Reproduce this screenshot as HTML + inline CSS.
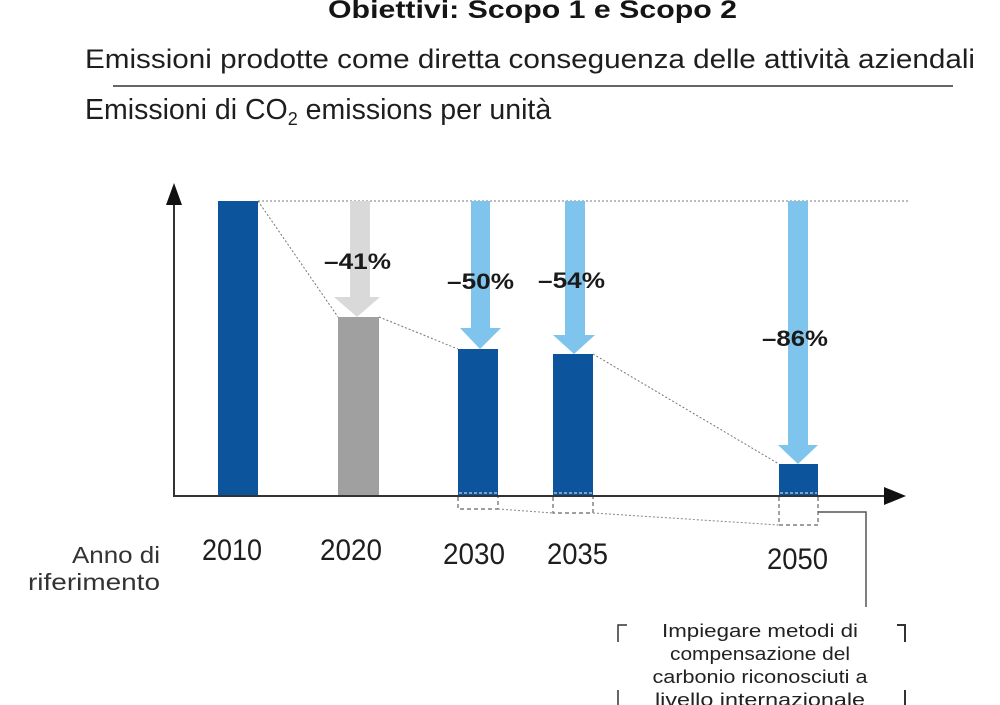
<!DOCTYPE html>
<html>
<head>
<meta charset="utf-8">
<style>
  html, body { margin:0; padding:0; background:#ffffff; }
  body { width:1000px; height:705px; overflow:hidden; }
  svg { display:block; }
  text { font-family: "Liberation Sans", "DejaVu Sans", sans-serif; }
</style>
</head>
<body>
<svg width="1000" height="705" viewBox="0 0 1000 705" xmlns="http://www.w3.org/2000/svg">
  <rect x="0" y="0" width="1000" height="705" fill="#ffffff"/>

  <!-- Header -->
  <text x="328" y="18" font-size="25" font-weight="bold" fill="#151515" textLength="409" lengthAdjust="spacingAndGlyphs">Obiettivi: Scopo 1 e Scopo 2</text>
  <text x="85" y="68" font-size="27" fill="#1e1e1e" textLength="890" lengthAdjust="spacingAndGlyphs">Emissioni prodotte come diretta conseguenza delle attività aziendali</text>
  <line x1="113" y1="86" x2="953" y2="86" stroke="#333" stroke-width="1.5"/>
  <text x="85" y="119" font-size="28.5" fill="#1e1e1e">Emissioni di CO<tspan font-size="18" dy="6">2</tspan><tspan dy="-6"> emissions per unità</tspan></text>

  <!-- Top dotted reference line -->
  <line x1="258" y1="201" x2="908" y2="201" stroke="#777" stroke-width="1" stroke-dasharray="2 2"/>

  <!-- Dotted trend lines -->
  <line x1="258" y1="201" x2="338" y2="317" stroke="#777" stroke-width="1" stroke-dasharray="2 2"/>
  <line x1="379" y1="317" x2="458" y2="349" stroke="#777" stroke-width="1" stroke-dasharray="2 2"/>
  <line x1="593" y1="354" x2="779" y2="464" stroke="#777" stroke-width="1" stroke-dasharray="2 2"/>

  <!-- Arrows -->
  <rect x="350" y="201" width="20" height="97" fill="#d9d9d9"/>
  <polygon points="334,297 380,297 357,317" fill="#d9d9d9"/>
  <rect x="471" y="201" width="19" height="128" fill="#7fc4ec"/>
  <polygon points="460,328 501,328 480,349" fill="#7fc4ec"/>
  <rect x="565" y="201" width="20" height="135" fill="#7fc4ec"/>
  <polygon points="553,335 595,335 574,354" fill="#7fc4ec"/>
  <rect x="788" y="201" width="20" height="245" fill="#7fc4ec"/>
  <polygon points="778,445 818,445 798,464" fill="#7fc4ec"/>

  <!-- Bars -->
  <rect x="218" y="201" width="40" height="295" fill="#0c559d"/>
  <rect x="338" y="317" width="41" height="179" fill="#a0a0a0"/>
  <rect x="458" y="349" width="40" height="147" fill="#0c559d"/>
  <rect x="553" y="354" width="40" height="142" fill="#0c559d"/>
  <rect x="779" y="464" width="39" height="32" fill="#0c559d"/>

  <!-- Wavy/dashed bottoms of bars -->
  <line x1="459" y1="493" x2="497" y2="493" stroke="#bcd4ec" stroke-width="1.2" stroke-dasharray="3 2"/>
  <line x1="554" y1="493" x2="592" y2="493" stroke="#bcd4ec" stroke-width="1.2" stroke-dasharray="3 2"/>
  <line x1="780" y1="493" x2="817" y2="493" stroke="#bcd4ec" stroke-width="1.2" stroke-dasharray="3 2"/>

  <!-- Percent labels -->
  <text x="324" y="269" font-size="22" font-weight="bold" fill="#1a1a1a" textLength="67" lengthAdjust="spacingAndGlyphs">–41%</text>
  <text x="447" y="289" font-size="22" font-weight="bold" fill="#1a1a1a" textLength="67" lengthAdjust="spacingAndGlyphs">–50%</text>
  <text x="538" y="288" font-size="22" font-weight="bold" fill="#1a1a1a" textLength="67" lengthAdjust="spacingAndGlyphs">–54%</text>
  <text x="762" y="346" font-size="22" font-weight="bold" fill="#1a1a1a" textLength="66" lengthAdjust="spacingAndGlyphs">–86%</text>

  <!-- Axes -->
  <line x1="174" y1="204" x2="174" y2="497" stroke="#333" stroke-width="2"/>
  <polygon points="166,205 182,205 174,183" fill="#111"/>
  <line x1="173" y1="496" x2="886" y2="496" stroke="#333" stroke-width="2"/>
  <polygon points="884,487 884,505 906,496" fill="#111"/>

  <!-- Dashed boxes under the axis -->
  <path d="M458,497 L458,509 L498,509 L498,497" fill="none" stroke="#666" stroke-width="1.2" stroke-dasharray="4 3"/>
  <path d="M553,497 L553,513 L593,513 L593,497" fill="none" stroke="#666" stroke-width="1.2" stroke-dasharray="4 3"/>
  <path d="M779,497 L779,525 L818,525 L818,497" fill="none" stroke="#666" stroke-width="1.2" stroke-dasharray="4 3"/>
  <line x1="498" y1="509" x2="553" y2="513" stroke="#888" stroke-width="1" stroke-dasharray="2 2"/>
  <line x1="593" y1="513" x2="779" y2="525" stroke="#888" stroke-width="1" stroke-dasharray="2 2"/>

  <!-- Connector to note -->
  <polyline points="818,512 866,512 866,607" fill="none" stroke="#555" stroke-width="1.5"/>

  <!-- Year labels -->
  <text x="202" y="560" font-size="30" fill="#1e1e1e" textLength="60" lengthAdjust="spacingAndGlyphs">2010</text>
  <text x="320" y="560" font-size="30" fill="#1e1e1e" textLength="62" lengthAdjust="spacingAndGlyphs">2020</text>
  <text x="443" y="564" font-size="30" fill="#1e1e1e" textLength="62" lengthAdjust="spacingAndGlyphs">2030</text>
  <text x="547" y="564" font-size="30" fill="#1e1e1e" textLength="61" lengthAdjust="spacingAndGlyphs">2035</text>
  <text x="767" y="569" font-size="30" fill="#1e1e1e" textLength="61" lengthAdjust="spacingAndGlyphs">2050</text>

  <text x="160" y="563" font-size="23" fill="#333" text-anchor="end" textLength="88" lengthAdjust="spacingAndGlyphs">Anno di</text>
  <text x="160" y="590" font-size="23" fill="#333" text-anchor="end" textLength="132" lengthAdjust="spacingAndGlyphs">riferimento</text>

  <!-- Note brackets -->
  <polyline points="627,625 618,625 618,642" fill="none" stroke="#333" stroke-width="1.5"/>
  <polyline points="897,625 905,625 905,642" fill="none" stroke="#333" stroke-width="2"/>
  <line x1="618" y1="690" x2="618" y2="705" stroke="#333" stroke-width="1.5"/>
  <line x1="905" y1="690" x2="905" y2="705" stroke="#333" stroke-width="2"/>

  <!-- Note text -->
  <text x="760" y="637" font-size="18" fill="#222" text-anchor="middle" textLength="196" lengthAdjust="spacingAndGlyphs">Impiegare metodi di</text>
  <text x="760" y="660" font-size="18" fill="#222" text-anchor="middle" textLength="180" lengthAdjust="spacingAndGlyphs">compensazione del</text>
  <text x="760" y="683" font-size="18" fill="#222" text-anchor="middle" textLength="215" lengthAdjust="spacingAndGlyphs">carbonio riconosciuti a</text>
  <text x="760" y="706" font-size="18" fill="#222" text-anchor="middle" textLength="210" lengthAdjust="spacingAndGlyphs">livello internazionale</text>
</svg>
</body>
</html>
